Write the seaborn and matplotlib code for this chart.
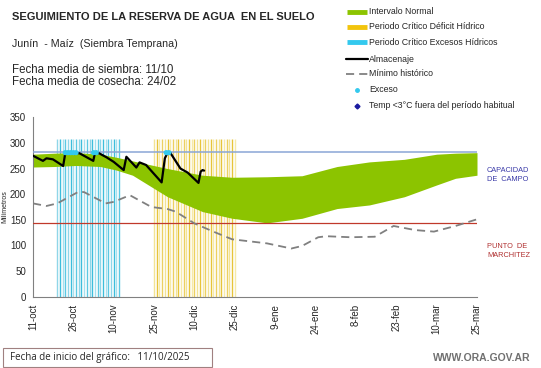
import numpy as np
import pandas as pd
import matplotlib
matplotlib.use("Agg")
import matplotlib.pyplot as plt
from matplotlib.lines import Line2D
from matplotlib.patches import Rectangle
import seaborn as sns

# Datos (días desde el 11/10)
tick_days = [0, 15, 30, 45, 60, 75, 90, 105, 120, 135, 150, 165]
tick_labels = ["11-oct", "26-oct", "10-nov", "25-nov", "10-dic", "25-dic",
               "9-ene", "24-ene", "8-feb", "23-feb", "10-mar", "25-mar"]

band_days = [0, 8, 16, 25, 31, 37, 50, 63, 74, 87, 100, 113, 125, 138, 150, 157, 165]
band_hi = [278, 280, 281, 278, 272, 265, 250, 237, 233, 234, 236, 254, 263, 268, 278, 280, 281]
band_lo = [253, 254, 256, 254, 247, 237, 195, 166, 153, 144, 153, 172, 179, 195, 218, 231, 237]

min_days = [0, 5, 9, 17, 19, 27, 30, 36, 44, 50, 53, 60, 67, 74, 87, 96, 100, 106, 109,
            118, 127, 134, 142, 149, 157, 165]
min_vals = [182, 177, 182, 205, 204, 182, 185, 198, 175, 171, 166, 143, 127, 112, 104, 94, 99,
            116, 118, 116, 117, 138, 130, 127, 138, 151]

alm_days = [0, 3.7, 5, 7.4, 11.2, 12, 17.2, 22.4, 23, 24.5, 27.3, 30, 33.7, 34.7, 38.4, 39.6,
            42, 47.8, 49, 50, 51, 54.8, 57.5, 61.5, 62.3, 63, 63.6]
alm_vals = [275, 265, 270, 268, 255, 280, 280, 265, 280, 280, 272, 263, 247, 273, 252, 262,
            257, 223, 270, 281, 281, 250, 242, 222, 244, 247, 246]

exc_days = [12, 13, 14, 15, 16, 22.5, 23.5, 49.5, 50.5]
exc_vals = [281, 281, 281, 281, 281, 281, 281, 281, 281]

exceso_critico = list(range(9, 33))
deficit_critico = list(range(45, 76))

capacidad_campo = 282
punto_marchitez = 143

sns.set_style("white")
plt.rcParams["font.family"] = ["Liberation Sans", "DejaVu Sans"]

W, H = 541, 368
fig = plt.figure(figsize=(5.41, 3.68), dpi=100)
ax = fig.add_axes([33 / W, 1 - 296.7 / H, 444 / W, 179.4 / H])

# periodos críticos (líneas diarias)
azules = ["#8fd6e8", "#3dbddb", "#a8e0ee", "#5cc8e2"]
amarillos = ["#f2e394", "#e6c43a", "#f6eaa8", "#ecd060"]
for i, d in enumerate(exceso_critico):
    ax.vlines(d, 0, 308, color=azules[i % len(azules)], lw=1.0, zorder=1)
for i, d in enumerate(deficit_critico):
    ax.vlines(d, 0, 308, color=amarillos[i % len(amarillos)], lw=1.0, zorder=1)

ax.fill_between(band_days, band_lo, band_hi, color="#8cc400", lw=0, zorder=2)

ax.axhline(capacidad_campo, color="#8aa6d6", lw=1.1, zorder=3)
ax.axhline(punto_marchitez, color="#c0392b", lw=0.9, zorder=3)

sns.lineplot(x=min_days, y=min_vals, ax=ax, color="#808080", lw=1.3,
             linestyle=(0, (4.5, 2.8)), zorder=4)
sns.lineplot(x=alm_days, y=alm_vals, ax=ax, color="black", lw=1.6, zorder=5)
sns.scatterplot(x=exc_days, y=exc_vals, ax=ax, color="#33c9ee", s=14,
                edgecolor="none", zorder=6)

ax.set_xlim(0, 165)
ax.set_ylim(0, 350)
ax.set_xticks(tick_days)
ax.set_xticklabels(tick_labels, rotation=90, fontsize=7)
ax.set_yticks(range(0, 351, 50))
ax.tick_params(axis="y", labelsize=7, length=3, color="#808080", pad=2)
ax.tick_params(axis="x", length=3, color="#808080", pad=2)
for s in ["top", "right"]:
    ax.spines[s].set_visible(False)
for s in ["left", "bottom"]:
    ax.spines[s].set_color("#808080")
    ax.spines[s].set_linewidth(0.8)
ax.set_xlabel("")
ax.set_ylabel("Milímetros", fontsize=5, labelpad=1)
ax.yaxis.set_label_coords(-0.055, 0.505)

ax.text(1.0225, 0.678, "CAPACIDAD\nDE  CAMPO", transform=ax.transAxes, fontsize=5.3,
        color="#3a3aa8", va="center", linespacing=1.3)
ax.text(1.0225, 0.255, "PUNTO  DE\nMARCHITEZ", transform=ax.transAxes, fontsize=5.3,
        color="#b03030", va="center", linespacing=1.3)

# textos de cabecera
fig.text(12 / W, 1 - 16.5 / H, "SEGUIMIENTO DE LA RESERVA DE AGUA  EN EL SUELO",
         fontsize=8, fontweight="bold", va="center")
fig.text(12 / W, 1 - 44 / H, "Junín  - Maíz  (Siembra Temprana)", fontsize=7.7, va="center")
fig.text(12 / W, 1 - 70 / H, "Fecha media de siembra: 11/10", fontsize=8.3, va="center")
fig.text(12 / W, 1 - 82 / H, "Fecha media de cosecha: 24/02", fontsize=8.3, va="center")

# leyenda dibujada a mano (estilo Excel)
leg_y = [11.7, 26.7, 42.3, 59, 74, 90, 106]
labels = ["Intervalo Normal", "Periodo Crítico Déficit Hídrico",
          "Periodo Crítico Excesos Hídricos", "Almacenaje", "Mínimo histórico",
          "Exceso", "Temp <3°C fuera del período habitual"]
bar_colors = ["#8cc400", "#f2c40c", "#33c9ee"]
for y, c in zip(leg_y[:3], bar_colors):
    fig.add_artist(Line2D([347 / W, 367 / W], [1 - y / H] * 2, color=c, lw=3.5,
                          solid_capstyle="butt"))
fig.add_artist(Line2D([346 / W, 368 / W], [1 - leg_y[3] / H] * 2, color="black", lw=1.6))
fig.add_artist(Line2D([346 / W, 368 / W], [1 - leg_y[4] / H] * 2, color="#808080", lw=1.3,
                      linestyle=(0, (4.5, 2.8))))
fig.add_artist(Line2D([357 / W], [1 - leg_y[5] / H], color="#33c9ee", marker="o",
                      markersize=2.5, lw=0))
fig.add_artist(Line2D([357 / W], [1 - leg_y[6] / H], color="#1a1aa0", marker="D",
                      markersize=2.5, lw=0))
for y, lab in zip(leg_y, labels):
    fig.text(369 / W, 1 - y / H, lab, fontsize=6.3, va="center")

fig.add_artist(Rectangle((3 / W, 1 - 367 / H), 209 / W, 19 / H, fill=False,
                         ec="#a08080", lw=0.8, transform=fig.transFigure))
fig.text(10 / W, 1 - 357.5 / H, "Fecha de inicio del gráfico:   11/10/2025", fontsize=7,
         va="center", family=["Open Sans", "DejaVu Sans"])
fig.text(530 / W, 1 - 358 / H, "WWW.ORA.GOV.AR", fontsize=7.5, color="#707070",
         fontweight="bold", ha="right", va="center")

fig.savefig("out.png", dpi=100)
